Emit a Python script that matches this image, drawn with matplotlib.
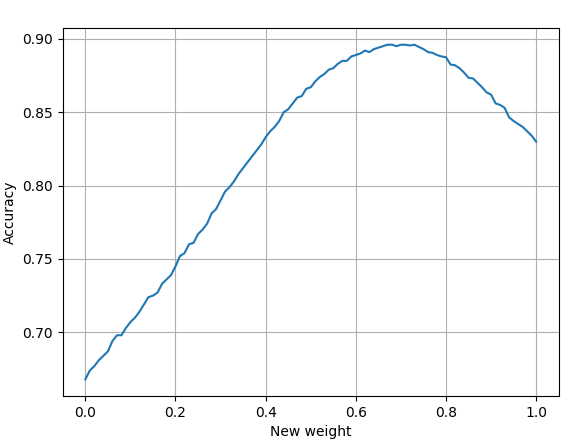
import numpy as np
import matplotlib
matplotlib.use("Agg")
import matplotlib.pyplot as plt

# new weight values, 0.00 .. 1.00 in steps of 0.01
new_weight = np.round(np.arange(101) * 0.01, 2)

accuracy = [
    0.668, 0.674, 0.677, 0.681, 0.684, 0.687, 0.694, 0.698, 0.698, 0.703,
    0.707, 0.710, 0.714, 0.719, 0.724, 0.725, 0.727, 0.733, 0.736, 0.739,
    0.745, 0.752, 0.754, 0.760, 0.761, 0.767, 0.770, 0.774, 0.781, 0.784,
    0.790, 0.796, 0.799, 0.803, 0.808, 0.812, 0.816, 0.820, 0.824, 0.828,
    0.833, 0.837, 0.840, 0.844, 0.850, 0.852, 0.856, 0.860, 0.861, 0.866,
    0.867, 0.871, 0.874, 0.876, 0.879, 0.880, 0.883, 0.885, 0.885, 0.888,
    0.889, 0.890, 0.892, 0.891, 0.893, 0.894, 0.895, 0.896, 0.896, 0.895,
    0.896, 0.896, 0.8955, 0.896, 0.8945, 0.893, 0.891, 0.8905, 0.889, 0.888,
    0.8875, 0.8825, 0.882, 0.880, 0.877, 0.8735, 0.873, 0.870, 0.867, 0.8635,
    0.862, 0.856, 0.855, 0.853, 0.8465, 0.844, 0.842, 0.840, 0.837, 0.834,
    0.830,
]

fig, ax = plt.subplots(figsize=(5.76, 4.48), dpi=100)
ax.plot(new_weight, accuracy)
ax.set_xlabel("New weight")
ax.set_ylabel("Accuracy")
ax.grid(True)

fig.subplots_adjust(left=0.109, right=0.970, top=0.9375, bottom=0.116)
fig.savefig("out.png", dpi=100)
